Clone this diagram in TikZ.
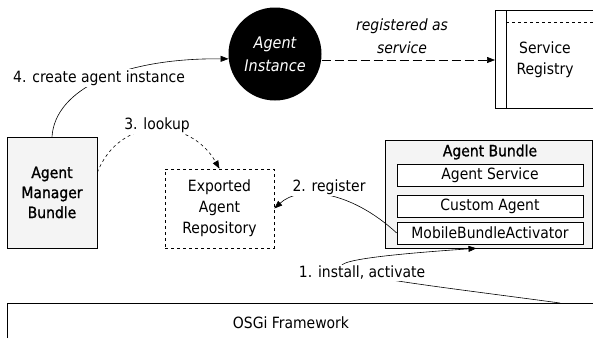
\documentclass[tikz,border=0pt]{standalone}
\usepackage{fontspec}
\setmainfont{DejaVu Sans Condensed}
\newfontfamily\heavyfont[FakeBold=1.2]{DejaVu Sans Condensed}
\usetikzlibrary{arrows.meta}
\begin{document}
\begin{tikzpicture}[x=1pt,y=-1pt,
  font=\fontsize{15.5}{21}\selectfont,
  box/.style={draw, line width=0.6pt, align=center, inner sep=0pt},
  shaded/.style={box, fill=gray!9},
  inner/.style={box, fill=white, minimum width=186pt, minimum height=22pt},
  arr/.style={-{Triangle[length=8pt,width=6pt]}, line width=0.6pt},
  lbl/.style={fill=white, inner sep=1.5pt}]
\useasboundingbox (0,0) rectangle (593,338);

% Agent instance
\node[circle, fill=black, minimum size=93pt, inner sep=0pt, text=white, align=center,
      font=\fontsize{16}{23}\selectfont\itshape] (inst) at (275,54) {Agent\\Instance};

% Service registry (open to the right)
\coordinate (regnw) at (495,10);
\coordinate (regsw) at (495,108);
\draw[line width=0.6pt] (593,10) -- (regnw) -- (regsw) -- (593,108);
\draw[line width=0.4pt] (506,10) -- (506,108);
\draw[line width=0.4pt, dashed] (506,22) -- (593,22);
\node[align=center] (regtxt) at (545,60) {Service\\Registry};
\coordinate (regw) at (495,60);

% Agent manager bundle
\node[shaded, minimum width=90pt, minimum height=111pt, font=\fontsize{15.5}{20}\heavyfont]
  (amb) at (52,192.5) {Agent\\Manager\\Bundle};

% Exported agent repository
\node[box, dashed, minimum width=109pt, minimum height=79pt] (ear) at (219.5,208.5)
  {Exported\\Agent\\Repository};

% Agent bundle
\node[shaded, minimum width=207pt, minimum height=108pt] (ab) at (488.5,194) {};
\node[font=\fontsize{15.5}{20}\heavyfont] (abt) at (490,152) {Agent Bundle};
\node[inner] (as) at (490,175) {Agent Service};
\node[inner] (ca) at (490,206) {Custom Agent};
\node[inner] (mba) at (490,233) {MobileBundleActivator};

% OSGi framework (open to the right and bottom)
\coordinate (osgitl) at (7,303);
\draw[line width=0.6pt] (7,338) -- (osgitl) -- (593,303);
\node (osgi) at (291,323) {OSGi Framework};
\coordinate (osgie) at (560,303);

% 1. install, activate
\draw[arr] (osgie) .. controls (360,276) and (233,265) .. ([xshift=-12pt]ab.south);
\node[lbl] (l1) at (362,273) {1. install, activate};

% 2. register
\draw[arr] (mba.west) .. controls (350,190) and (300,185) .. (ear.east);
\node[lbl] (l2) at (329,187) {2. register};

% 3. lookup
\draw[arr, dashed] ([yshift=20pt]amb.east) .. controls (120,115) and (190,117) .. (ear.north);
\node[lbl] (l3) at (157,125) {3. lookup};

% 4. create agent instance
\draw[arr] (amb.north) .. controls (55,90) and (120,58) .. (inst.186);
\node[lbl] (l4) at (99,78) {4. create agent instance};

% registered as service
\draw[arr, dashed, dash pattern=on 9pt off 4pt] (inst.east |- regw) -- (regw);
\node[align=center, font=\fontsize{15.5}{23}\selectfont\itshape] (l5) at (402,36) {registered as\\service};
\end{tikzpicture}
\end{document}
